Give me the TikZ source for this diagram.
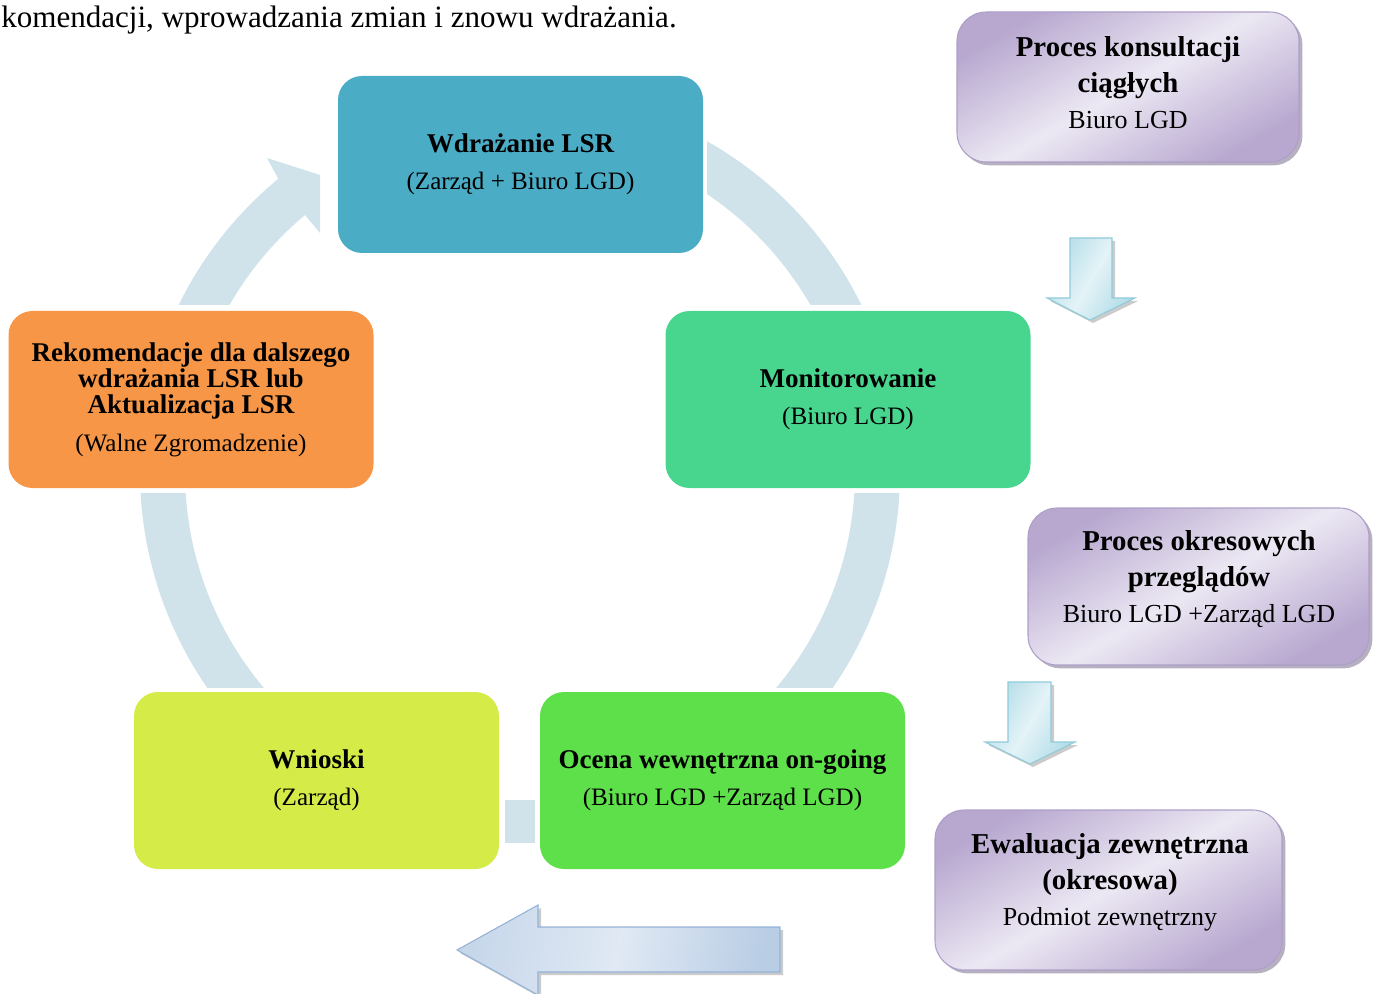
\documentclass[tikz,border=0pt]{standalone}
\usepackage{fontspec}
\setmainfont{Liberation Serif}
\usetikzlibrary{shadows}
\definecolor{ringc}{HTML}{D0E2EA}
\definecolor{cBlue}{HTML}{4BACC6}
\definecolor{cTeal}{HTML}{48D68F}
\definecolor{cGreen}{HTML}{5EE04A}
\definecolor{cLime}{HTML}{D5EB47}
\definecolor{cOrange}{HTML}{F79646}
\definecolor{pEdge}{HTML}{B8A8D0}
\definecolor{pMid}{HTML}{ECE8F3}
\definecolor{pLine}{HTML}{AE9FC8}
\definecolor{aEdge}{HTML}{B3DDE8}
\definecolor{aMid}{HTML}{E4F3F7}
\definecolor{aLine}{HTML}{8FCBDA}
\definecolor{bEdge}{HTML}{B9CDE5}
\definecolor{bMid}{HTML}{E0E9F4}
\definecolor{bLine}{HTML}{95B3D7}
\newcommand{\cyb}[1]{{\fontsize{20.3}{19.5}\selectfont\bfseries #1}}
\newcommand{\cyr}[1]{{\fontsize{18.8}{19.5}\selectfont #1}}
\newcommand{\pub}[1]{{\fontsize{21.6}{27}\selectfont\bfseries #1}}
\newcommand{\pur}[1]{{\fontsize{19.5}{27}\selectfont #1}}
\begin{document}
\begin{tikzpicture}[x=0.75pt,y=0.75pt,
  cyclebox/.style={rounded corners=18pt, minimum width=273.75pt, minimum height=132.75pt,
    inner sep=0pt, align=center, text=black, font=\fontsize{20}{19.5}\selectfont},
  pbox/.style={rounded corners=22pt, inner sep=0pt, draw=pLine, line width=0.8pt,
    left color=pEdge, right color=pEdge, middle color=pMid, shading angle=30,
    drop shadow={shadow xshift=2.5pt, shadow yshift=-2.5pt, fill=pLine!70!black, opacity=0.55}},
  ptext/.style={align=center, inner sep=0pt, font=\fontsize{21}{27}\selectfont},
  ringfill/.style={fill=ringc},
  ringline/.style={draw=ringc, line width=33.75pt},
  cyanarrow/.style={draw=aLine, line width=0.8pt, left color=aEdge, right color=aEdge, middle color=aMid, shading angle=60},
  bluearrow/.style={draw=bLine, line width=0.8pt, left color=bEdge!80!white, right color=bEdge, middle color=bMid, shading angle=80},
  arrowshadow/.style={fill=black!45, opacity=0.45}
]
\useasboundingbox (0,0) rectangle (1376,-994);
\clip (0,0) rectangle (1376,-994);

% top text (cut paragraph)
\node[anchor=base west, inner sep=0pt, font=\fontsize{23.3}{27}\selectfont] (para) at (1,-28)
  {komendacji, wprowadzania zmian i znowu wdrażania.};

% ring segments
\coordinate (ctr) at (520,-472);
\begin{scope}
  \clip (707,-60) rectangle (950,-305);
  \draw[ringline] (ctr) ++(75:357.5) arc[start angle=75, end angle=10, radius=357.5];
\end{scope}
\begin{scope}
  \clip (600,-493) rectangle (950,-687);
  \draw[ringline] (ctr) ++(10:357.5) arc[start angle=10, end angle=-50, radius=357.5];
\end{scope}
\fill[ringfill] (505,-800) rectangle (535,-843);
\begin{scope}
  \clip (90,-493) rectangle (440,-687);
  \draw[ringline] (ctr) ++(170:357.5) arc[start angle=170, end angle=230, radius=357.5];
\end{scope}
\begin{scope}
  \clip (90,-305) rectangle (440,-60);
  \fill[ringfill] (ctr) ++(160:380) arc[start angle=160, end angle=129.5, radius=380]
    -- (267,-158) -- (320,-175) -- (320,-233) -- (305,-215)
    arc[start angle=129.9, end angle=160, radius=335] -- cycle;
\end{scope}

% cycle boxes
\node[cyclebox, fill=cBlue] (wdr) at (520.5,-164.5)
  {\cyb{Wdrażanie LSR}\\[8.25pt]\cyr{(Zarząd + Biuro LGD)}};
\node[cyclebox, fill=cTeal] (mon) at (848,-399.5)
  {\cyb{Monitorowanie}\\[8.25pt]\cyr{(Biuro LGD)}};
\node[cyclebox, fill=cGreen] (oce) at (722.5,-780.5)
  {\cyb{Ocena wewnętrzna on-going}\\[8.25pt]\cyr{(Biuro LGD +Zarząd LGD)}};
\node[cyclebox, fill=cLime] (wni) at (316.5,-780.5)
  {\cyb{Wnioski}\\[8.25pt]\cyr{(Zarząd)}};
\node[cyclebox, fill=cOrange] (rek) at (191,-399.5)
  {\cyb{Rekomendacje dla dalszego}\\\cyb{wdrażania LSR lub}\\\cyb{Aktualizacja LSR}\\[9pt]\cyr{(Walne Zgromadzenie)}};

% purple boxes
\node[pbox, minimum width=256.5pt, minimum height=112.5pt] (k1) at (1128,-87) {};
\node[ptext] (k1t) at (1128,-83) {\pub{Proces konsultacji}\\\pub{ciągłych}\\\pur{Biuro LGD}};
\node[pbox, minimum width=255.75pt, minimum height=117.75pt] (k2) at (1198.5,-586.5) {};
\node[ptext] (k2t) at (1199,-579) {\pub{Proces okresowych}\\\pub{przeglądów}\\\pur{Biuro LGD +Zarząd LGD}};
\node[pbox, minimum width=260.25pt, minimum height=120pt] (k3) at (1108.5,-890) {};
\node[ptext] (k3t) at (1110,-882) {\pub{Ewaluacja zewnętrzna}\\\pub{(okresowa)}\\\pur{Podmiot zewnętrzny}};

% down arrows
\fill[arrowshadow] (1073,-241) -- (1115,-241) -- (1115,-301) -- (1138,-301) -- (1093,-323) -- (1050,-301) -- (1073,-301) -- cycle;
\path[cyanarrow] (1070,-238) -- (1112,-238) -- (1112,-298) -- (1135,-298) -- (1090,-320) -- (1047,-298) -- (1070,-298) -- cycle;
\fill[arrowshadow] (1011,-685) -- (1054,-685) -- (1054,-745) -- (1078,-745) -- (1033,-767) -- (988,-745) -- (1011,-745) -- cycle;
\path[cyanarrow] (1008,-682) -- (1051,-682) -- (1051,-742) -- (1075,-742) -- (1030,-764) -- (985,-742) -- (1008,-742) -- cycle;

% left arrow
\fill[arrowshadow] (460,-953) -- (541,-908) -- (541,-930) -- (783,-930) -- (783,-975) -- (541,-975) -- (541,-998) -- cycle;
\path[bluearrow] (457,-950) -- (538,-905) -- (538,-927) -- (780,-927) -- (780,-972) -- (538,-972) -- (538,-995) -- cycle;
\end{tikzpicture}
\end{document}
